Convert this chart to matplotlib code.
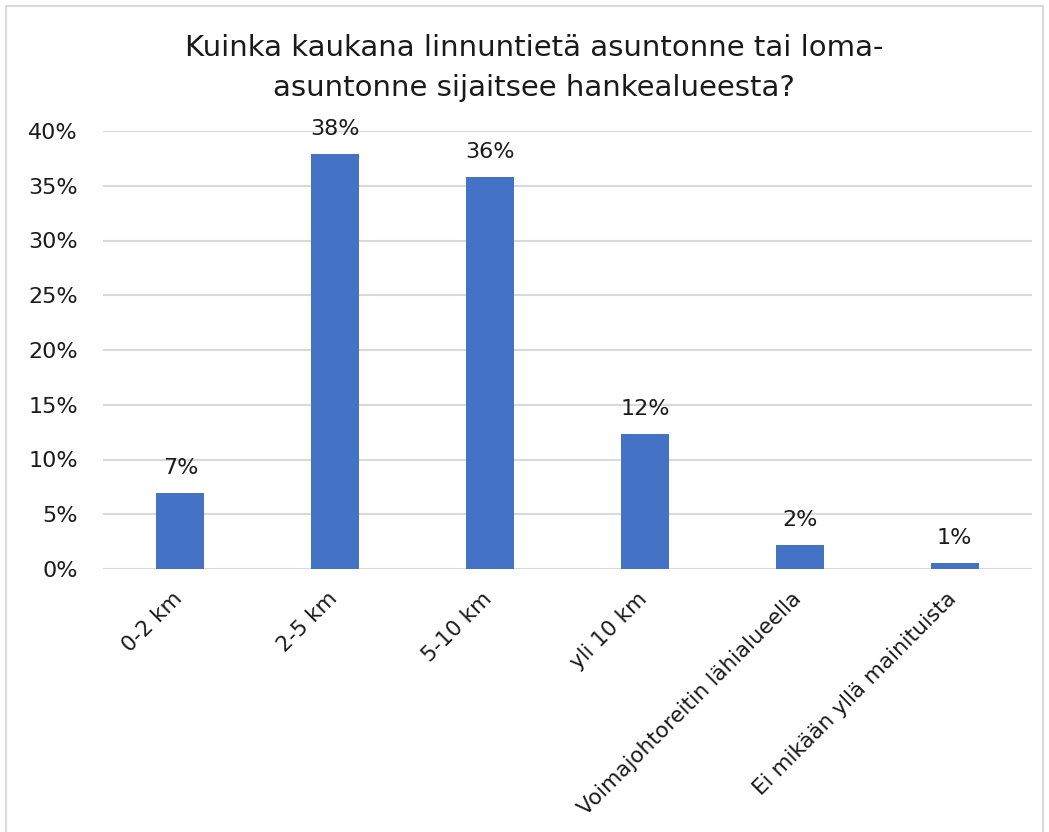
import matplotlib.pyplot as plt
from matplotlib.patches import Rectangle
from matplotlib.transforms import ScaledTranslation

categories = ['0-2 km', '2-5 km', '5-10 km', 'yli 10 km',
              'Voimajohtoreitin lähialueella', 'Ei mikään yllä mainituista']
values = [6.9, 37.9, 35.8, 12.3, 2.2, 0.55]
labels = ['7%', '38%', '36%', '12%', '2%', '1%']
yticks = [0, 5, 10, 15, 20, 25, 30, 35, 40]

plt.rcParams['font.family'] = 'DejaVu Sans'

fig = plt.figure(figsize=(10.49, 8.32), dpi=100)
ax = fig.add_axes([103 / 1049, 1 - 569 / 832, 929 / 1049, 438 / 832])

x = list(range(len(categories)))
bars = ax.bar(x, values, width=0.31, color='#4472C4', zorder=3)

for b, lab in zip(bars, labels):
    ax.annotate(lab, (b.get_x() + b.get_width() / 2, b.get_height()),
                xytext=(0, 11), textcoords='offset points',
                ha='center', va='bottom', fontsize=16, color='#1a1a1a')

ax.set_xlim(-0.5, 5.5)
ax.set_ylim(0, 40)
ax.set_yticks(yticks)
ax.set_yticklabels([f'{t}%' for t in yticks])
ax.set_xticks(x)
ax.set_xticklabels(categories, rotation=45, ha='right', rotation_mode='anchor')
ax.tick_params(axis='y', length=0, pad=18, labelsize=16, labelcolor='#1a1a1a')
ax.tick_params(axis='x', length=0, pad=14, labelsize=15.5, labelcolor='#1a1a1a')
shift = ScaledTranslation(-6 / 72, 0, fig.dpi_scale_trans)
for t in ax.get_xticklabels():
    t.set_transform(t.get_transform() + shift)
ax.grid(axis='y', color='#d9d9d9', linewidth=1.5, zorder=0)
for s in ax.spines.values():
    s.set_visible(False)

fig.text(534 / 1049, 1 - 48 / 832, 'Kuinka kaukana linnuntietä asuntonne tai loma-',
         ha='center', va='center', fontsize=21, color='#1a1a1a')
fig.text(534 / 1049, 1 - 88 / 832, 'asuntonne sijaitsee hankealueesta?',
         ha='center', va='center', fontsize=21, color='#1a1a1a')

fig.patches.append(Rectangle((6 / 1049, -0.01), 1037 / 1049, 1 - 6 / 832 + 0.01,
                             transform=fig.transFigure, fill=False,
                             edgecolor='#d9d9d9', linewidth=1.5))

fig.savefig('out.png', dpi=100)
